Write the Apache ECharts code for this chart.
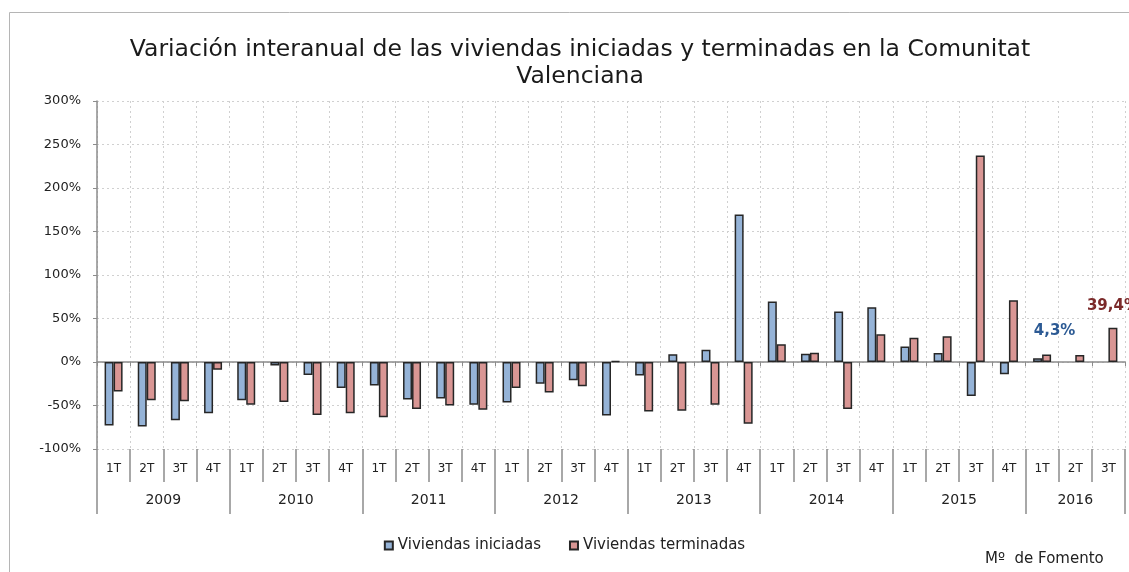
<!DOCTYPE html>
<html lang="es">
  <head>
    <meta charset="UTF-8" />
    <title>Variación interanual viviendas</title>
    <style>
      body {
        margin: 0;
        padding: 0;
        background-color: #ffffff;
      }
      #container {
        width: 1129px;
        height: 572px;
      }
    </style>
  </head>
  <body>
    <div id="container"></div>

    <script src="https://cdn.jsdelivr.net/npm/echarts@6/dist/echarts.min.js"></script>
    <script>
      // datos: variación interanual (%) por trimestre
      const quarters = [
        "1T", "2T", "3T", "4T", "1T", "2T", "3T", "4T",
        "1T", "2T", "3T", "4T", "1T", "2T", "3T", "4T",
        "1T", "2T", "3T", "4T", "1T", "2T", "3T", "4T",
        "1T", "2T", "3T", "4T", "1T", "2T", "3T",
      ];
      const years = ["2009", "2010", "2011", "2012", "2013", "2014", "2015", "2016"];
      const yearOfQuarter = [
        "2009", "2009", "2009", "2009", "2010", "2010", "2010", "2010",
        "2011", "2011", "2011", "2011", "2012", "2012", "2012", "2012",
        "2013", "2013", "2013", "2013", "2014", "2014", "2014", "2014",
        "2015", "2015", "2015", "2015", "2016", "2016", "2016",
      ];
      const iniciadas = [
        -73, -74, -67, -59, -44, -4, -15, -30,
        -27, -43, -42, -49, -46.5, -25, -21, -61.5,
        -15.5, 9, 14, 169.5, 69.5, 9.5, 58, 63,
        17.7, 10.4, -39, -14, 4.3, null, null,
      ];
      const terminadas = [
        -34, -44, -45, -9, -49, -46, -61, -59,
        -63.5, -54, -50, -55, -30, -35, -28, 1,
        -57, -56, -49, -71, 20.5, 10.7, -54, 31.8,
        28, 29.6, 237.5, 71, 8.5, 8, 39.4,
      ];
      const yTicks = { min: -100, max: 300, interval: 50 };

      var chart = echarts.init(document.getElementById("container"));
      const font = "DejaVu Sans";

      // etiquetas destacadas del último dato
      const iniData = iniciadas.map((v, i) =>
        i === 28
          ? {
              value: v,
              label: {
                show: true,
                position: "top",
                offset: [17, -15],
                formatter: () => "4,3%",
                color: "#2c5a94",
                fontWeight: "bold",
                fontSize: 15,
                fontFamily: font,
              },
            }
          : v
      );
      const terData = terminadas.map((v, i) =>
        i === 30
          ? {
              value: v,
              label: {
                show: true,
                position: "top",
                offset: [0, -9],
                formatter: () => "39,4%",
                color: "#7b2a2a",
                fontWeight: "bold",
                fontSize: 15,
                fontFamily: font,
              },
            }
          : v
      );

      // año centrado en su grupo de trimestres
      const yearMid = {};
      years.forEach((y) => {
        const idx = yearOfQuarter
          .map((q, i) => (q === y ? i : -1))
          .filter((i) => i >= 0);
        yearMid[y] = idx[Math.floor((idx.length - 1) / 2)];
        yearMid[y + "_even"] = idx.length % 2 === 0;
      });

      const option = {
        animation: false,
        textStyle: { fontFamily: font },
        title: {
          text: "Variación interanual de las viviendas iniciadas y terminadas en la Comunitat\nValenciana",
          left: 575,
          top: 31,
          textAlign: "center",
          textStyle: {
            fontFamily: font,
            fontWeight: "normal",
            fontSize: 23.5,
            lineHeight: 27,
            color: "#1a1a1a",
          },
        },
        legend: {
          bottom: 14,
          left: "center",
          icon: "rect",
          itemWidth: 8,
          itemHeight: 8,
          itemGap: 28,
          textStyle: { fontSize: 15, color: "#222", fontFamily: font },
          data: ["Viviendas iniciadas", "Viviendas terminadas"],
        },
        grid: { left: 97, right: 4, top: 101, bottom: 123 },
        xAxis: [
          {
            // eje en el 0% con marcas pequeñas
            type: "category",
            data: quarters,
            axisLine: { onZero: true, lineStyle: { color: "#8c8c8c", width: 1.5 } },
            axisTick: { show: true, length: 4, lineStyle: { color: "#8c8c8c" } },
            axisLabel: { show: false },
            splitLine: {
              show: true,
              lineStyle: { color: "#d0d0d0", type: [2, 3] },
            },
          },
          {
            type: "category",
            data: quarters,
            position: "bottom",
            axisLine: { show: false, onZero: false },
            axisTick: { show: true, length: 33, lineStyle: { color: "#8c8c8c", width: 1.5 } },
            axisLabel: { show: true, fontSize: 12, color: "#222", margin: 14, interval: 0 },
            splitLine: { show: false },
          },
          {
            type: "category",
            data: yearOfQuarter,
            position: "bottom",
            axisLine: { show: false, onZero: false },
            axisTick: {
              show: true,
              length: 65,
              interval: (i) => i % 4 === 0,
              lineStyle: { color: "#8c8c8c", width: 1.5 },
            },
            axisLabel: {
              show: true,
              interval: (i, v) => yearMid[v] === i,
              margin: 44,
              formatter: (v) => (yearMid[v + "_even"] ? "{e|" + v + "}" : "{o|" + v + "}"),
              rich: {
                e: { fontSize: 14, color: "#222", padding: [0, 0, 0, 33] },
                o: { fontSize: 14, color: "#222" },
              },
            },
            splitLine: { show: false },
          },
        ],
        yAxis: {
          type: "value",
          min: yTicks.min,
          max: yTicks.max,
          interval: yTicks.interval,
          axisLine: { show: true, lineStyle: { color: "#8c8c8c", width: 1.5 } },
          axisTick: { show: true, length: 4, lineStyle: { color: "#8c8c8c" } },
          axisLabel: {
            formatter: "{value}%",
            fontSize: 13,
            color: "#222",
            margin: 16,
          },
          splitLine: { lineStyle: { color: "#d0d0d0", type: [2, 3] } },
        },
        series: [
          {
            name: "Viviendas iniciadas",
            type: "bar",
            xAxisIndex: 0,
            data: iniData,
            barWidth: 9,
            barGap: "0%",
            itemStyle: { color: "#95b3d7", borderColor: "#262626", borderWidth: 1.5 },
          },
          {
            name: "Viviendas terminadas",
            type: "bar",
            xAxisIndex: 0,
            data: terData,
            barWidth: 9,
            barGap: "0%",
            itemStyle: { color: "#d99694", borderColor: "#262626", borderWidth: 1.5 },
          },
        ],
        graphic: [
          {
            type: "rect",
            left: 7,
            top: 10,
            shape: { width: 1200, height: 600 },
            style: { fill: "none", stroke: "#b5b5b5", lineWidth: 1 },
            silent: true,
            z: -1,
          },
          {
            type: "text",
            left: 985,
            top: 552,
            style: {
              text: "Mº  de Fomento",
              fontSize: 15,
              fontFamily: font,
              fill: "#222",
            },
          },
        ],
      };

      chart.setOption(option);
    </script>
  </body>
</html>
